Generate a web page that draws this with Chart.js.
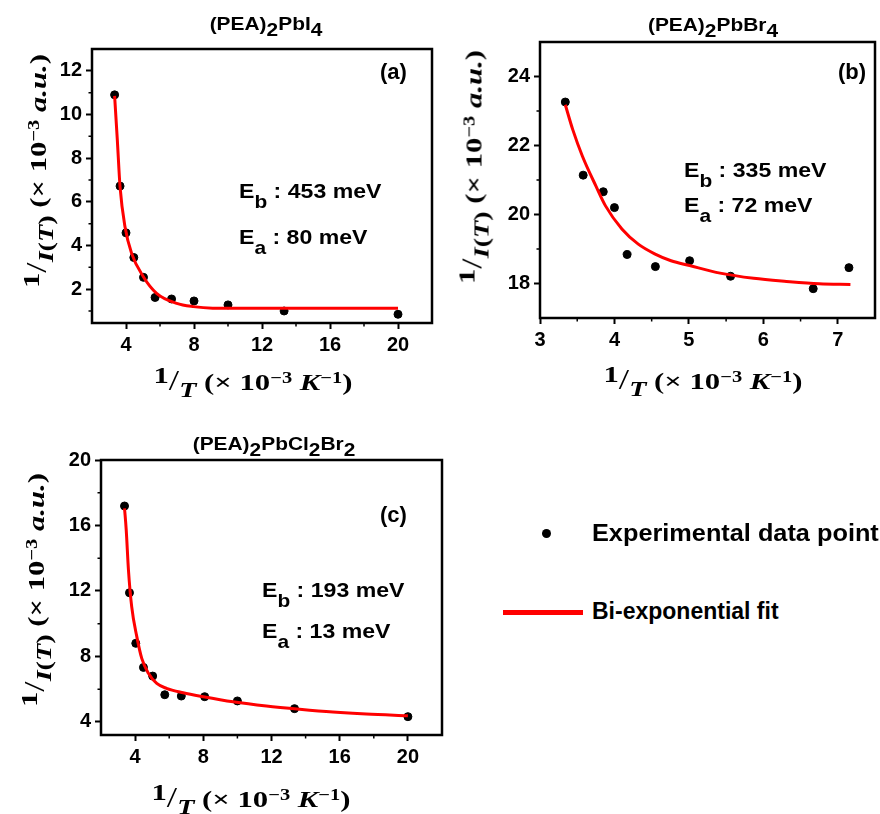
<!DOCTYPE html>
<html>
<head>
<meta charset="utf-8">
<script src="https://cdn.jsdelivr.net/npm/chart.js"></script>
<style>
  body { margin: 0; background: #fff; }
  #page { position: relative; width: 880px; height: 814px; overflow: hidden; background: #fff;
          font-family: "Liberation Sans", Arial, sans-serif; color: #000; }
  canvas { position: absolute; }
  .t { position: absolute; white-space: nowrap; font-weight: bold; }
  .title { font-size: 19px; line-height: 19px; transform: translateX(-50%) scaleX(1.1); }
  .title .s { position: relative; top: 6px; }
  .note { font-size: 21px; line-height: 21px; transform: scaleX(1.1); transform-origin: left center; }
  .note .s { font-size: 19px; position: relative; top: 10px; }
  .tag { font-size: 22px; line-height: 22px; }
  .leg { font-size: 23px; line-height: 23px; }
  .ax { position: absolute; white-space: nowrap; font-family: "Liberation Serif", "DejaVu Serif", serif;
        font-weight: bold; font-size: 24px; line-height: 24px; }
  .ax sup { font-size: 16px; position: relative; top: -2px; vertical-align: top; }
  .ax .num { position: relative; top: -7px; }
  .ax .sl { font-size: 29px; font-weight: normal; }
  .ax .den { position: relative; top: 7px; font-size: 22px; }
  .xtitle { transform: translate(-50%, -50%) scaleX(1.28); }
  .ytitle { transform: translate(-50%, -50%) rotate(-90deg) scaleX(1.28); }
</style>
</head>
<body>
<div id="page">
  <canvas id="chartA" width="440" height="400" style="left:0; top:0"></canvas>
  <canvas id="chartB" width="440" height="400" style="left:440px; top:0"></canvas>
  <canvas id="chartC" width="450" height="414" style="left:0; top:400px"></canvas>

  <div class="t title" style="left:266px; top:14px">(PEA)<span class="s">2</span>PbI<span class="s">4</span></div>
  <div class="t title" style="left:713px; top:15px">(PEA)<span class="s">2</span>PbBr<span class="s">4</span></div>
  <div class="t title" style="left:274px; top:434px">(PEA)<span class="s">2</span>PbCl<span class="s">2</span>Br<span class="s">2</span></div>

  <div class="t tag" style="left:380px; top:61px">(a)</div>
  <div class="t tag" style="left:838px; top:61px">(b)</div>
  <div class="t tag" style="left:380px; top:504px">(c)</div>

  <div class="t note" style="left:239px; top:180px">E<span class="s">b</span> : 453 meV</div>
  <div class="t note" style="left:239px; top:226px">E<span class="s">a</span> : 80 meV</div>
  <div class="t note" style="left:684px; top:159px">E<span class="s">b</span> : 335 meV</div>
  <div class="t note" style="left:684px; top:194px">E<span class="s">a</span> : 72 meV</div>
  <div class="t note" style="left:262px; top:579px">E<span class="s">b</span> : 193 meV</div>
  <div class="t note" style="left:262px; top:620px">E<span class="s">a</span> : 13 meV</div>

  <div class="ax xtitle" style="left:253px; top:381px"><span class="num">1</span><span class="sl">/</span><span class="den"><i>T</i></span> (× 10<sup>−3</sup> <i>K</i><sup>−1</sup>)</div>
  <div class="ax xtitle" style="left:703px; top:380px"><span class="num">1</span><span class="sl">/</span><span class="den"><i>T</i></span> (× 10<sup>−3</sup> <i>K</i><sup>−1</sup>)</div>
  <div class="ax xtitle" style="left:251px; top:798px"><span class="num">1</span><span class="sl">/</span><span class="den"><i>T</i></span> (× 10<sup>−3</sup> <i>K</i><sup>−1</sup>)</div>

  <div class="ax ytitle" style="left:37px; top:171px"><span class="num">1</span><span class="sl">/</span><span class="den"><i>I</i>(<i>T</i>)</span> (× 10<sup>−3</sup> <i>a.u.</i>)</div>
  <div class="ax ytitle" style="left:473px; top:167px"><span class="num">1</span><span class="sl">/</span><span class="den"><i>I</i>(<i>T</i>)</span> (× 10<sup>−3</sup> <i>a.u.</i>)</div>
  <div class="ax ytitle" style="left:35px; top:590px"><span class="num">1</span><span class="sl">/</span><span class="den"><i>I</i>(<i>T</i>)</span> (× 10<sup>−3</sup> <i>a.u.</i>)</div>

  <!-- legend -->
  <div style="position:absolute; left:541.5px; top:528.5px; width:9px; height:9px; border-radius:50%; background:#000"></div>
  <div class="t leg" style="left:592px; top:522px; transform:scaleX(1.1); transform-origin:left center">Experimental data point</div>
  <div style="position:absolute; left:503px; top:610px; width:80px; height:5px; background:#ff0000"></div>
  <div class="t leg" style="left:592px; top:600px">Bi-exponential fit</div>
</div>

<script>
// (PEA)2PbI4
const xA = [3.33, 3.65, 4.0, 4.46, 5.03, 5.71, 6.68, 8.0, 10.0, 13.3, 20.0];
const yA = [10.9, 6.72, 4.58, 3.45, 2.54, 1.62, 1.55, 1.46, 1.28, 1.0, 0.85];
const fitXA = [3.33, 3.49, 3.65, 3.94, 4.33, 5.02, 5.8, 6.98, 7.96, 9.1, 12, 16, 20];
const fitYA = [10.85, 8.83, 6.69, 4.86, 3.64, 2.57, 1.81, 1.35, 1.2, 1.13, 1.12, 1.12, 1.12];

// (PEA)2PbBr4
const xB = [3.34, 3.58, 3.85, 4.0, 4.17, 4.55, 5.01, 5.56, 6.67, 7.15];
const yB = [23.26, 21.14, 20.66, 20.2, 18.84, 18.49, 18.66, 18.21, 17.85, 18.46];
const fitXB = [3.34, 3.44, 3.57, 3.75, 3.88, 4.10, 4.32, 4.54, 4.76, 5.01, 5.42, 5.87, 6.31, 6.75, 7.17];
const fitYB = [23.18, 22.46, 21.69, 20.83, 20.25, 19.58, 19.14, 18.86, 18.66, 18.52, 18.30, 18.15, 18.06, 17.99, 17.97];

// (PEA)2PbCl2Br2
const xC = [3.38, 3.67, 4.04, 4.49, 5.03, 5.74, 6.71, 8.08, 10.0, 13.35, 20.0];
const yC = [17.19, 11.89, 8.8, 7.33, 6.8, 5.66, 5.58, 5.54, 5.28, 4.81, 4.32];
const fitXC = [3.38, 3.48, 3.61, 3.80, 4.10, 4.39, 4.78, 5.27, 5.84, 6.82, 8.0, 9.75, 11.7, 13.65, 15.6, 17.56, 20];
const fitYC = [17.05, 15.72, 13.28, 11.04, 9.21, 7.88, 6.97, 6.35, 6.05, 5.78, 5.54, 5.23, 4.97, 4.77, 4.6, 4.48, 4.38];

// tick values (major get labels, minor are bare marks)
const ticksXA = [4, 8, 12, 16, 20],      minorXA = [6, 10, 14, 18];
const ticksYA = [2, 4, 6, 8, 10, 12],    minorYA = [1, 3, 5, 7, 9, 11];
const ticksXB = [3, 4, 5, 6, 7],         minorXB = [3.5, 4.5, 5.5, 6.5];
const ticksYB = [18, 20, 22, 24],        minorYB = [19, 21, 23];
const ticksXC = [4, 8, 12, 16, 20],      minorXC = [6, 10, 14, 18];
const ticksYC = [4, 8, 12, 16, 20],      minorYC = [6, 10, 14, 18];

const toXY = (xs, ys) => xs.map((x, i) => ({ x, y: ys[i] }));

// closed box around the plot area plus short minor ticks
const framePlugin = {
  id: 'frame',
  afterDraw(chart, args, opts) {
    const { ctx, chartArea: a } = chart;
    const sx = chart.scales.x, sy = chart.scales.y;
    ctx.save();
    ctx.strokeStyle = '#000';
    ctx.lineWidth = 2.5;
    ctx.strokeRect(a.left, a.top, a.right - a.left, a.bottom - a.top);
    ctx.lineWidth = 1.5;
    ctx.beginPath();
    opts.minorX.forEach(v => {
      const px = sx.getPixelForValue(v);
      ctx.moveTo(px, a.bottom);
      ctx.lineTo(px, a.bottom + 3.5);
    });
    opts.minorY.forEach(v => {
      const py = sy.getPixelForValue(v);
      ctx.moveTo(a.left, py);
      ctx.lineTo(a.left - 3.5, py);
    });
    ctx.stroke();
    ctx.restore();
  }
};

function axis(min, max, values, size, horizontal) {
  return {
    type: 'linear',
    min, max,
    afterBuildTicks: s => { s.ticks = values.map(v => ({ value: v })); },
    afterFit: s => { if (horizontal) s.height = size; else s.width = size; },
    border: { display: false },
    grid: { drawOnChartArea: false, drawTicks: true, tickLength: 6, tickWidth: 2, tickColor: '#000' },
    ticks: {
      autoSkip: false, maxRotation: 0, padding: 4, color: '#000',
      font: { family: '"Liberation Sans", Arial, sans-serif', size: 20, weight: 'bold' }
    }
  };
}

function makePanel(id, pts, fit, box, xr, yr) {
  const canvas = document.getElementById(id);
  const W = canvas.width, H = canvas.height;
  new Chart(canvas.getContext('2d'), {
    type: 'scatter',
    data: {
      datasets: [
        {
          label: 'Bi-exponential fit',
          data: fit,
          showLine: true,
          borderColor: '#ff0000',
          borderWidth: 3,
          pointRadius: 0,
          cubicInterpolationMode: 'monotone',
          order: 0,
        },
        {
          label: 'Experimental data point',
          data: pts,
          backgroundColor: '#000',
          borderColor: '#000',
          pointRadius: 4,
          order: 1,
        },
      ],
    },
    options: {
      responsive: false,
      animation: false,
      devicePixelRatio: 1,
      layout: { padding: { left: 0, top: box.top, right: W - box.right, bottom: 0 } },
      plugins: {
        legend: { display: false },
        tooltip: { enabled: false },
        frame: { minorX: xr.minor, minorY: yr.minor },
      },
      scales: {
        x: axis(xr.min, xr.max, xr.ticks, H - box.bottom, true),
        y: axis(yr.min, yr.max, yr.ticks, box.left, false),
      },
    },
    plugins: [framePlugin],
  });
}

makePanel('chartA', toXY(xA, yA), toXY(fitXA, fitYA),
  { left: 92, top: 49, right: 432, bottom: 323 },
  { min: 2, max: 22, ticks: ticksXA, minor: minorXA },
  { min: 0.45, max: 13, ticks: ticksYA, minor: minorYA });

makePanel('chartB', toXY(xB, yB), toXY(fitXB, fitYB),
  { left: 100, top: 42, right: 439, bottom: 318 },
  { min: 3, max: 7.5, ticks: ticksXB, minor: minorXB },
  { min: 17, max: 25, ticks: ticksYB, minor: minorYB });

makePanel('chartC', toXY(xC, yC), toXY(fitXC, fitYC),
  { left: 101, top: 60, right: 442, bottom: 335 },
  { min: 2, max: 22, ticks: ticksXC, minor: minorXC },
  { min: 3.2, max: 20, ticks: ticksYC, minor: minorYC });
</script>
</body>
</html>
